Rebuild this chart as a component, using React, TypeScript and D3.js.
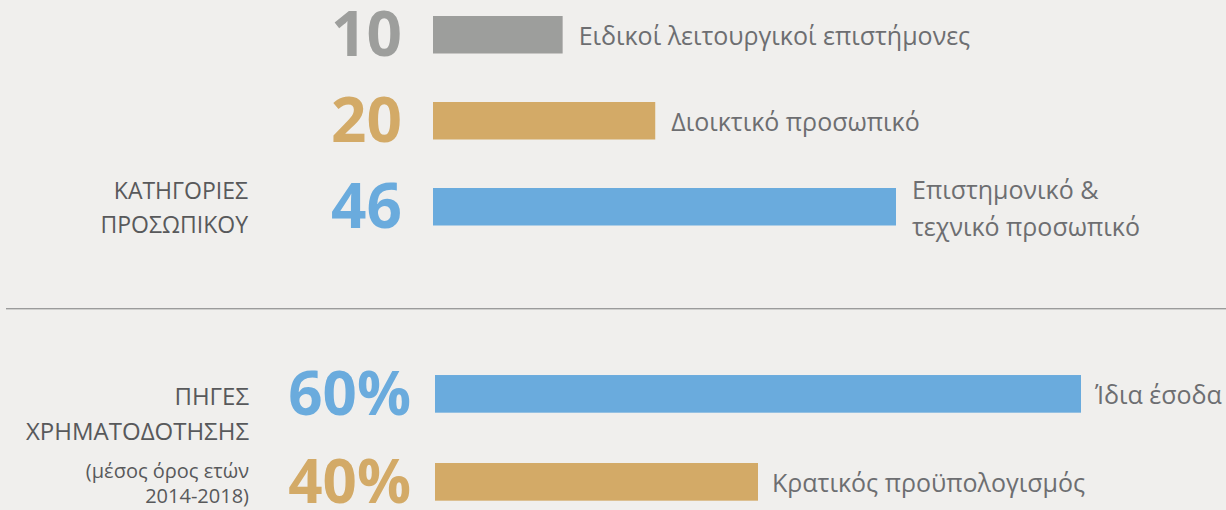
import React from "react";
import * as d3 from "d3";

const staffCategories = ["Ειδικοί λειτουργικοί επιστήμονες", "Διοικτικό προσωπικό", "Επιστημονικό & τεχνικό προσωπικό"];
const staffLabelLines = [["Ειδικοί λειτουργικοί επιστήμονες"], ["Διοικτικό προσωπικό"], ["Επιστημονικό &", "τεχνικό προσωπικό"]];
const staffValues = [10, 20, 46];
const staffColors = ["#9d9e9c", "#d3aa67", "#6aabdd"];

const fundingCategories = ["Ίδια έσοδα", "Κρατικός προϋπολογισμός"];
const fundingValues = [60, 40];
const fundingColors = ["#6aabdd", "#d3aa67"];

const staffTitle = ["ΚΑΤΗΓΟΡΙΕΣ", "ΠΡΟΣΩΠΙΚΟΥ"];
const fundingTitle = ["ΠΗΓΕΣ", "ΧΡΗΜΑΤΟΔΟΤΗΣΗΣ"];
const fundingNote = ["(μέσος όρος ετών", "2014-2018)"];

const W = 1226;
const H = 510;
const FONT = "'Open Sans', 'Noto Sans', sans-serif";
const TEXT = "#6d6e71";
const TITLE = "#58595b";

export default function App() {
  const yTop = d3.scaleBand<string>().domain(staffCategories).range([-32.5, 274]).paddingInner(0.564).paddingOuter(0.564);
  const xTop = d3.scaleLinear().domain([-4, 46]).range([0, 463]);
  const yBot = d3.scaleBand<string>().domain(fundingCategories).range([324.7, 551]).paddingInner(0.572).paddingOuter(0.572);
  const xBot = d3.scaleLinear().domain([20, 60]).range([0, 646]);
  const x0Top = 433;
  const x0Bot = 435;

  return (
    <svg width={W} height={H} style={{ position: "absolute", left: 0, top: 0, display: "block" }} fontFamily={FONT}>
      <rect x={0} y={0} width={W} height={H} fill="#f0efed" />
      {staffCategories.map((c, i) => {
        const y = yTop(c)!;
        const bw = yTop.bandwidth();
        const w = xTop(staffValues[i]);
        const lines = staffLabelLines[i];
        const cy = y + bw / 2;
        return (
          <g key={c}>
            <rect x={x0Top} y={y} width={w} height={bw} fill={staffColors[i]} />
            <text x={402} y={cy + 21} textAnchor="end" fontSize={62} fontWeight={700} fill={staffColors[i]}>
              {staffValues[i]}
            </text>
            {lines.map((l, j) => (
              <text key={j} x={x0Top + w + 16} y={lines.length === 1 ? cy + 10 : cy - 8 + j * 37} fontSize={25} fill={TEXT}>
                {l}
              </text>
            ))}
          </g>
        );
      })}
      {staffTitle.map((t, j) => (
        <text key={t} x={248} y={199 + j * 34} textAnchor="end" fontSize={23} fill={TITLE}>
          {t}
        </text>
      ))}
      <line x1={6} x2={W} y1={308.5} y2={308.5} stroke="#9b9b9b" strokeWidth={1} />
      <line x1={6} x2={W} y1={309.5} y2={309.5} stroke="#cfcfcd" strokeWidth={1} />
      {fundingCategories.map((c, i) => {
        const y = yBot(c)!;
        const bw = yBot.bandwidth();
        const w = xBot(fundingValues[i]);
        const cy = y + bw / 2;
        return (
          <g key={c}>
            <rect x={x0Bot} y={y} width={w} height={bw} fill={fundingColors[i]} />
            <text x={411} y={cy + 21} textAnchor="end" fontSize={60} fontWeight={700} fill={fundingColors[i]}>
              {fundingValues[i]}%
            </text>
            <text x={x0Bot + w + 14} y={cy + 10} fontSize={25} fill={TEXT}>
              {c}
            </text>
          </g>
        );
      })}
      {fundingTitle.map((t, j) => (
        <text key={t} x={249} y={405 + j * 35} textAnchor="end" fontSize={24} fill={TITLE}>
          {t}
        </text>
      ))}
      {fundingNote.map((t, j) => (
        <text key={t} x={249} y={478 + j * 25} textAnchor="end" fontSize={20} fill={TITLE}>
          {t}
        </text>
      ))}
    </svg>
  );
}
